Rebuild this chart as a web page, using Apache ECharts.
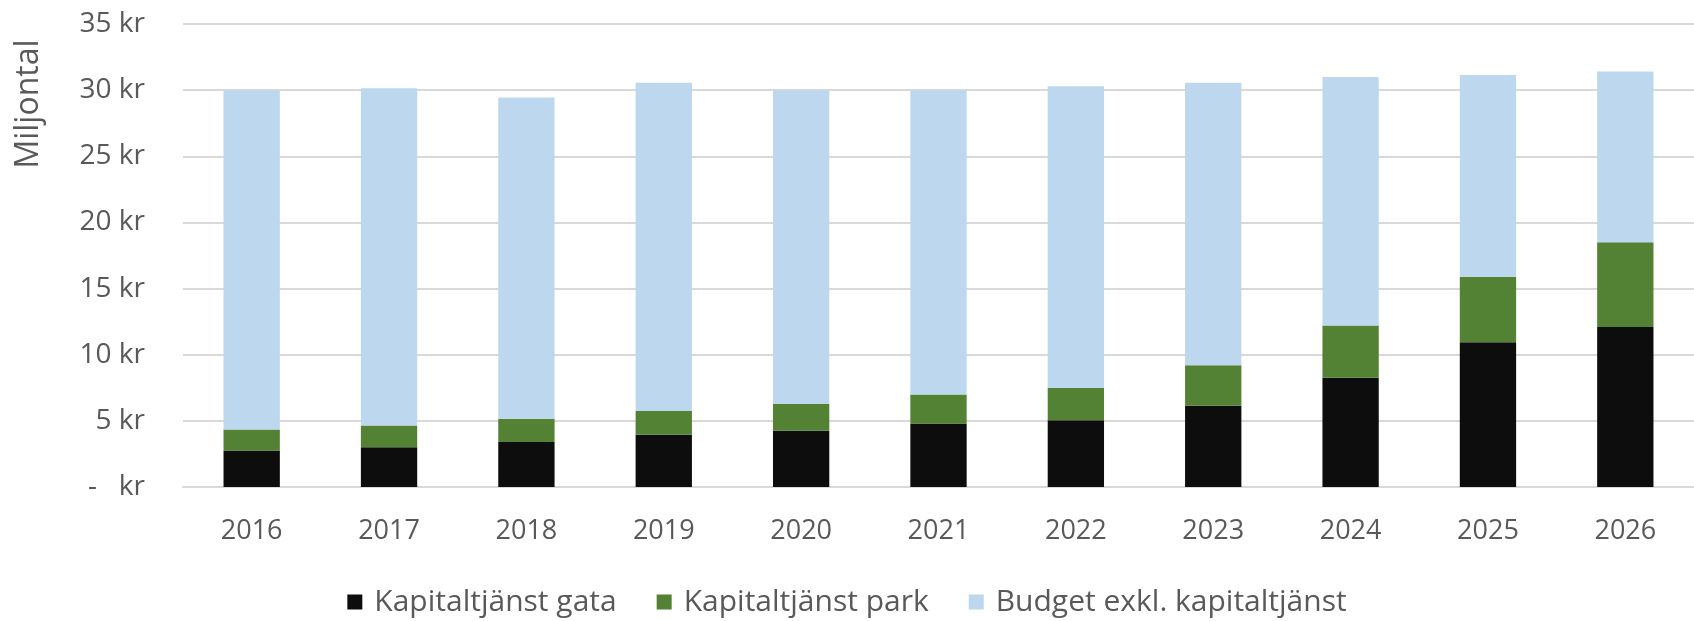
<!DOCTYPE html>
<html>
<head>
<meta charset="utf-8">
<script src="https://cdn.jsdelivr.net/npm/echarts@6/dist/echarts.min.js"></script>
<style>
  html, body { margin: 0; padding: 0; background: #fff; }
  #chart { width: 1694px; height: 621px; }
</style>
</head>
<body>
<div id="chart"></div>
<script>
const years = ['2016', '2017', '2018', '2019', '2020', '2021', '2022', '2023', '2024', '2025', '2026'];
const gata = [2.75, 3.0, 3.4, 3.95, 4.25, 4.8, 5.05, 6.15, 8.25, 10.95, 12.1];
const park = [1.6, 1.65, 1.75, 1.8, 2.05, 2.2, 2.45, 3.05, 3.95, 4.95, 6.4];
const budget = [25.65, 25.5, 24.3, 24.8, 23.7, 23.0, 22.8, 21.35, 18.8, 15.25, 12.9];

const font = '"Open Sans", sans-serif';
const textColor = '#595959';

const chart = echarts.init(document.getElementById('chart'));

chart.setOption({
  animation: false,
  grid: { left: 183, right: 0, top: 24, bottom: 134 },
  legend: {
    top: 582,
    left: 'center',
    itemWidth: 15,
    itemHeight: 15,
    itemGap: 40,
    icon: 'rect',
    textStyle: { color: textColor, fontSize: 30, fontFamily: font, padding: [0, 0, 0, 7] },
  },
  graphic: [{
    type: 'text',
    x: 29,
    y: 104,
    rotation: Math.PI / 2,
    style: {
      text: 'Miljontal',
      fill: textColor,
      font: '32px ' + font,
      align: 'center',
      verticalAlign: 'middle',
    },
  }],
  xAxis: {
    type: 'category',
    data: years,
    axisTick: { show: false },
    axisLine: { lineStyle: { color: '#d9d9d9', width: 2 } },
    axisLabel: { color: textColor, fontSize: 27, fontFamily: font, margin: 31 },
  },
  yAxis: {
    type: 'value',
    min: 0,
    max: 35,
    interval: 5,
    axisLine: { show: false },
    axisTick: { show: false },
    splitLine: { lineStyle: { color: '#d9d9d9', width: 2 } },
    axisLabel: {
      color: textColor,
      fontSize: 28,
      fontFamily: font,
      margin: 38,
      formatter: (v) => (v === 0 ? '-   kr' : v + ' kr'),
    },
  },
  series: [
    { name: 'Kapitaltjänst gata', type: 'bar', stack: 'total', data: gata, barWidth: '41%', itemStyle: { color: '#0d0d0d' } },
    { name: 'Kapitaltjänst park', type: 'bar', stack: 'total', data: park, itemStyle: { color: '#548235' } },
    { name: 'Budget exkl. kapitaltjänst', type: 'bar', stack: 'total', data: budget, itemStyle: { color: '#bdd7ee' } },
  ],
});
</script>
</body>
</html>
